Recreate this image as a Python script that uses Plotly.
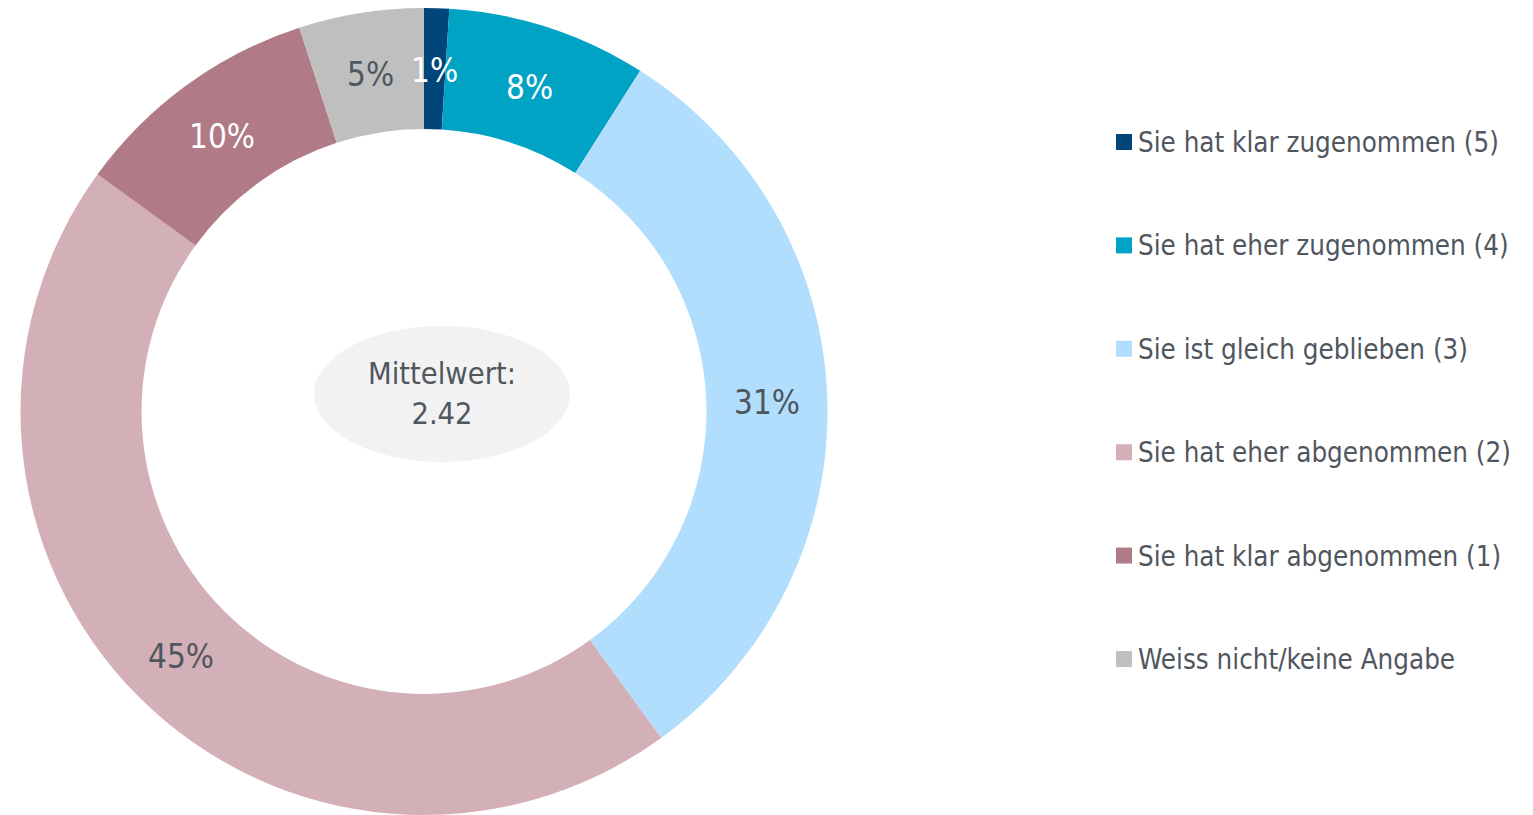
import math
import plotly.graph_objects as go

categories = [
    "Sie hat klar zugenommen (5)",
    "Sie hat eher zugenommen (4)",
    "Sie ist gleich geblieben (3)",
    "Sie hat eher abgenommen (2)",
    "Sie hat klar abgenommen (1)",
    "Weiss nicht/keine Angabe",
]
values = [1, 8, 31, 45, 10, 5]
colors = ["#00467A", "#00A3C4", "#B0DEFC", "#D3AFB7", "#B07A86", "#BFBFBF"]
label_colors = ["#FFFFFF", "#FFFFFF", "#50565E", "#50565E", "#FFFFFF", "#50565E"]
mean_text = "Mittelwert:<br>2.42"

W, H = 1533, 815
FONT = "DejaVu Sans Condensed, DejaVu Sans, sans-serif"
TXT = "#50565E"

# pie geometry (pixels, figure coordinates)
cx, cy, R, hole = 416, 403.5, 403.5, 0.70

fig = go.Figure()
fig.add_trace(go.Pie(
    labels=categories, values=values, sort=False, direction="clockwise",
    rotation=0, hole=hole, textinfo="none", hoverinfo="label+percent",
    marker=dict(colors=colors, line=dict(width=0)), showlegend=False,
    domain=dict(x=[(cx - R) / W, (cx + R) / W], y=[max(0, 1 - (cy + R) / H), 1]),
))

annotations = []
shapes = []
total = sum(values)
cum = 0
rmid = R * (1 + hole) / 2
for v, lc in zip(values, label_colors):
    mid = (cum + v / 2) / total * 2 * math.pi
    cum += v
    px = cx + rmid * math.sin(mid)
    py = cy - rmid * math.cos(mid) + 2
    annotations.append(dict(
        x=px / W, y=1 - py / H, xref="paper", yref="paper",
        text=f"{round(v / total * 100)}%", showarrow=False,
        font=dict(family=FONT, size=33, color=lc), xanchor="center", yanchor="middle",
    ))

# centre ellipse with mean value
shapes.append(dict(type="circle", xref="paper", yref="paper",
                   x0=306 / W, x1=562 / W, y0=1 - 454 / H, y1=1 - 318 / H,
                   fillcolor="#F2F2F2", line=dict(width=0), layer="above"))
annotations.append(dict(x=434 / W, y=1 - 386 / H, xref="paper", yref="paper",
                        text=mean_text, showarrow=False,
                        font=dict(family=FONT, size=30.5, color=TXT),
                        xanchor="center", yanchor="middle"))

# legend
leg_y0, leg_dy = 134, 103.4
for i, (cat, col) in enumerate(zip(categories, colors)):
    y = leg_y0 + i * leg_dy
    shapes.append(dict(type="rect", xref="paper", yref="paper",
                       x0=1108 / W, x1=1124 / W, y0=1 - (y + 8) / H, y1=1 - (y - 8) / H,
                       fillcolor=col, line=dict(width=0)))
    annotations.append(dict(x=1128 / W, y=1 - y / H, xref="paper", yref="paper",
                            text=cat, showarrow=False, xanchor="left", yanchor="middle",
                            font=dict(family=FONT, size=27.5, color=TXT)))

fig.update_layout(
    width=W, height=H, margin=dict(l=0, r=0, t=0, b=0),
    paper_bgcolor="white", plot_bgcolor="white",
    annotations=annotations, shapes=shapes, showlegend=False,
)
fig.write_html("out.html")
